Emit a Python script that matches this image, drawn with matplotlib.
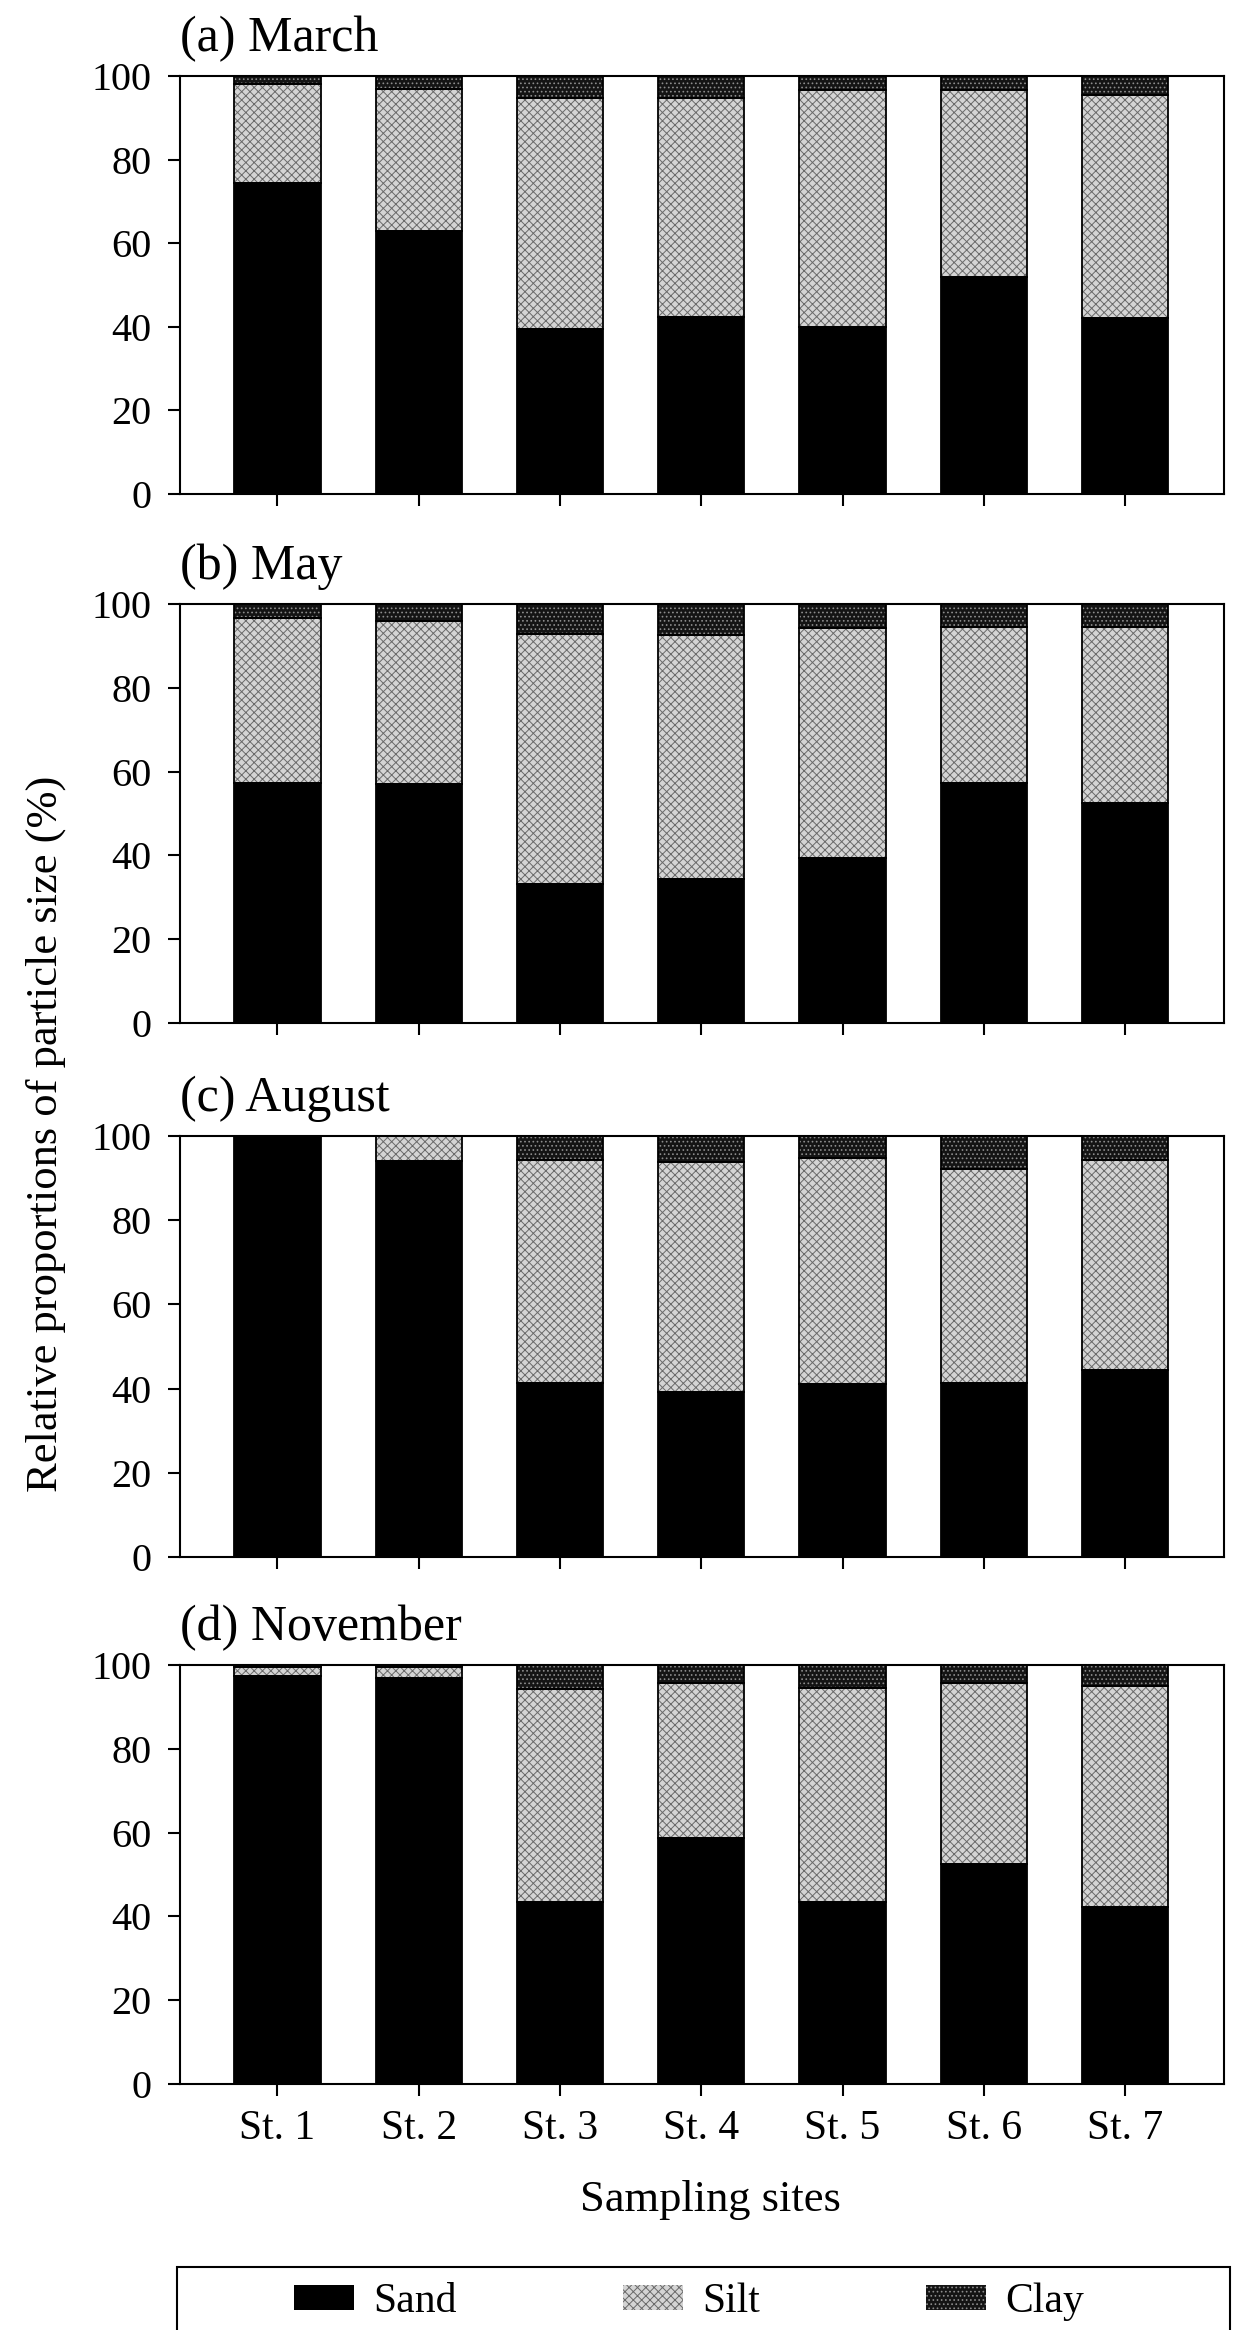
import matplotlib
matplotlib.use("Agg")
import matplotlib.pyplot as plt
from matplotlib.patches import Patch, Rectangle

plt.rcParams['font.family'] = ['Liberation Serif', 'DejaVu Serif']
plt.rcParams['hatch.linewidth'] = 0.7

# data (% of particle size class)
sites = ["St. 1", "St. 2", "St. 3", "St. 4", "St. 5", "St. 6", "St. 7"]
months = ["(a) March", "(b) May", "(c) August", "(d) November"]

sand_mar = [74.5, 63.0, 39.5, 42.3, 39.9, 52.0, 42.0]
silt_mar = [23.7, 33.9, 55.3, 52.5, 56.8, 44.7, 53.5]
clay_mar = [1.8, 3.1, 5.2, 5.2, 3.3, 3.3, 4.5]

sand_may = [57.3, 57.0, 33.1, 34.3, 39.3, 57.3, 52.5]
silt_may = [39.4, 39.0, 59.7, 58.4, 54.9, 37.3, 42.0]
clay_may = [3.3, 4.0, 7.2, 7.3, 5.8, 5.4, 5.5]

sand_aug = [100.0, 94.1, 41.4, 39.3, 41.1, 41.4, 44.4]
silt_aug = [0.0, 5.9, 52.8, 54.6, 53.7, 50.7, 49.8]
clay_aug = [0.0, 0.0, 5.8, 6.1, 5.2, 7.9, 5.8]

sand_nov = [97.4, 96.8, 43.5, 58.8, 43.5, 52.6, 42.3]
silt_nov = [2.2, 2.8, 50.7, 37.0, 51.0, 43.1, 52.6]
clay_nov = [0.4, 0.4, 5.8, 4.2, 5.5, 4.3, 5.1]

sand_all = [sand_mar, sand_may, sand_aug, sand_nov]
silt_all = [silt_mar, silt_may, silt_aug, silt_nov]
clay_all = [clay_mar, clay_may, clay_aug, clay_nov]

# styles: (face, hatch colour, hatch)
styles = {
    "Sand": ("black", "black", None),
    "Silt": ("#d4d4d4", "#6a6a6a", "xxxx"),
    "Clay": ("#141414", "#8c8c8c", "...."),
}

W, H = 1237, 2330
fig = plt.figure(figsize=(W / 100, H / 100), dpi=100)

tops = [76, 604, 1136, 1665]
bottoms = [494, 1023, 1557, 2084]
left, right = 180, 1224

x = list(range(1, len(sites) + 1))
bw = 0.61


def stack(ax, vals, base, name):
    face, hcol, hatch = styles[name]
    ax.bar(x, vals, bw, bottom=base, color=face, edgecolor=hcol,
           hatch=hatch, linewidth=0, zorder=2)
    ax.bar(x, vals, bw, bottom=base, fill=False, edgecolor="black",
           linewidth=1.3, zorder=3)


for i in range(4):
    ax = fig.add_axes([left / W, 1 - bottoms[i] / H,
                       (right - left) / W, (bottoms[i] - tops[i]) / H])
    sand, silt, clay = sand_all[i], silt_all[i], clay_all[i]
    stack(ax, sand, [0] * 7, "Sand")
    stack(ax, silt, sand, "Silt")
    stack(ax, clay, [a + b for a, b in zip(sand, silt)], "Clay")

    ax.set_xlim(0.31, 7.70)
    ax.set_ylim(0, 100)
    ax.set_yticks([0, 20, 40, 60, 80, 100])
    ax.set_xticks(x)
    if i == 3:
        ax.set_xticklabels(sites)
    else:
        ax.set_xticklabels([])
    for s in ax.spines.values():
        s.set_linewidth(1.5)
    ax.tick_params(axis="y", direction="out", length=8.6, width=1.5,
                   labelsize=29, pad=12)
    ax.tick_params(axis="x", direction="out", length=8.6, width=1.5,
                   labelsize=30, pad=10)
    ax.set_title(months[i], loc="left", fontsize=36, pad=18)

fig.text(46 / W, 1 - 1134 / H, "Relative proportions of particle size (%)",
         rotation=90, ha="center", va="center", fontsize=32)
fig.text(710 / W, 1 - 2200 / H, "Sampling sites", ha="center", va="center",
         fontsize=32)

handles = []
for name in ["Sand", "Silt", "Clay"]:
    face, hcol, hatch = styles[name]
    handles.append(Patch(facecolor=face, edgecolor=hcol, hatch=hatch,
                         linewidth=0, label=name))
fig.legend(handles=handles, ncol=3, loc="center",
           bbox_to_anchor=(689 / W, 1 - 2302 / H), frameon=False,
           fontsize=30, handlelength=1.44, handleheight=0.55,
           handletextpad=0.45, columnspacing=4.0)
fig.add_artist(Rectangle((177 / W, 1 - 2345 / H), (1230 - 177) / W,
                         (2345 - 2267) / H, fill=False, linewidth=1.5,
                         edgecolor="black", transform=fig.transFigure,
                         clip_on=False))

fig.savefig("out.png", dpi=100, facecolor="white")
